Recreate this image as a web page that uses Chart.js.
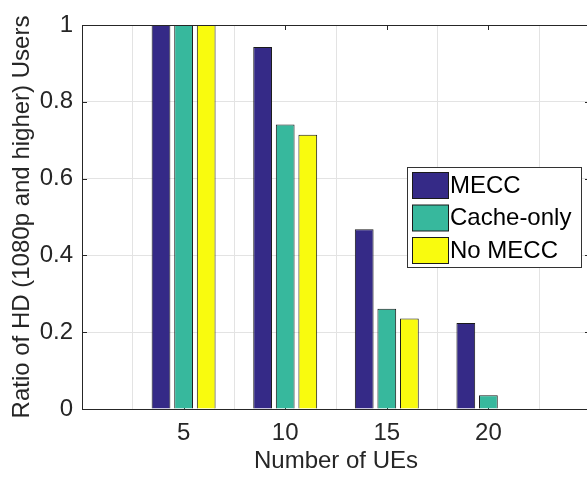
<!DOCTYPE html>
<html><head><meta charset="utf-8">
<script src="https://cdn.jsdelivr.net/npm/chart.js@4"></script>
<style>html,body{margin:0;padding:0;background:#fff;overflow:hidden;} #wrap{position:absolute;left:0;top:0;width:592px;height:479px;}</style>
</head><body><div id="wrap"><canvas id="c" width="592" height="479"></canvas></div>
<script>
const categories = ['', '5', '10', '15', '20', ''];
const seriesNames = ['MECC', 'Cache-only', 'No MECC'];
const mecc      = [null, 1.0, 0.943, 0.468, 0.224, null];
const cacheOnly = [null, 1.0, 0.741, 0.261, 0.036, null];
const noMecc    = [null, 1.0, 0.714, 0.236, 0.0, null];
const yTicks = [0, 0.2, 0.4, 0.6, 0.8, 1];
const xTitle = 'Number of UEs';
const yTitle = 'Ratio of HD (1080p and higher) Users';
const colors = ['#352a87', '#37b89d', '#f9fb0e'];

const FONT = "'Liberation Sans', Arial, Helvetica, sans-serif";
const AX = '#262626';

const framePlugin = {
  id: 'frame',
  beforeDatasetsDraw(chart) {
    const {ctx, chartArea: a, scales} = chart;
    ctx.save();
    ctx.strokeStyle = AX; ctx.lineWidth = 1;
    const L = 5;
    ctx.beginPath();
    for (let i = 1; i < categories.length - 1; i++) {
      const x = Math.round(scales.x.getPixelForValue(i)) + 0.5;
      ctx.moveTo(x, a.bottom); ctx.lineTo(x, a.bottom - L);
      ctx.moveTo(x, a.top); ctx.lineTo(x, a.top + L);
    }
    yTicks.forEach(v => {
      const y = Math.round(scales.y.getPixelForValue(v)) + 0.5;
      ctx.moveTo(a.left, y); ctx.lineTo(a.left + L, y);
      ctx.moveTo(a.right, y); ctx.lineTo(a.right - L, y);
    });
    ctx.stroke();
    ctx.restore();
  },
  afterDraw(chart) {
    const {ctx, chartArea: a} = chart;
    ctx.save();
    ctx.strokeStyle = AX; ctx.lineWidth = 1;
    ctx.beginPath();
    ctx.moveTo(a.left, Math.round(a.top) + 0.5); ctx.lineTo(a.right, Math.round(a.top) + 0.5);
    ctx.moveTo(Math.round(a.right) - 0.5, a.top); ctx.lineTo(Math.round(a.right) - 0.5, a.bottom);
    ctx.stroke();
    // legend
    const bx = a.right - 183, by = a.top + 142, bw = 174, bh = 100;
    ctx.fillStyle = '#fff';
    ctx.fillRect(bx, by, bw, bh);
    ctx.strokeStyle = '#333';
    ctx.strokeRect(bx + 0.5, by + 0.5, bw, bh);
    ctx.font = '24px ' + FONT;
    ctx.textBaseline = 'middle';
    ctx.textAlign = 'left';
    chart.data.datasets.forEach((ds, i) => {
      const sy = by + 5.5 + i * 32.5;
      ctx.fillStyle = ds.backgroundColor;
      ctx.fillRect(bx + 5.5, sy, 36, 26);
      ctx.strokeStyle = '#1a1a1a';
      ctx.strokeRect(bx + 5.5, sy, 36, 26);
      ctx.fillStyle = '#000';
      ctx.fillText(ds.label, bx + 43, sy + 13.5);
    });
    ctx.restore();
  }
};

const series = [mecc, cacheOnly, noMecc];
new Chart(document.getElementById('c'), {
  type: 'bar',
  data: {
    labels: categories,
    datasets: series.map((d, i) => ({
      label: seriesNames[i],
      data: d,
      backgroundColor: colors[i],
      borderColor: '#1a1a1a',
      borderWidth: 1,
      categoryPercentage: 0.667,
      barPercentage: 0.83
    }))
  },
  options: {
    responsive: false,
    animation: false,
    devicePixelRatio: 1,
    layout: { padding: { top: 25, right: 2, left: 0, bottom: 0 } },
    plugins: { legend: { display: false }, tooltip: { enabled: false } },
    scales: {
      x: {
        offset: false,
        grid: { display: true, color: '#e3e3e3', drawTicks: false },
        border: { display: true, color: AX, width: 1 },
        ticks: { color: AX, font: { family: FONT, size: 24 }, padding: 10, maxRotation: 0, autoSkip: false },
        title: { display: true, text: xTitle, color: AX, font: { family: FONT, size: 24 }, padding: { top: 0, bottom: 3 } },
        afterFit: s => { s.height = 70; s.paddingLeft = 0; s.paddingRight = 0; }
      },
      y: {
        min: 0, max: 1,
        afterBuildTicks: s => { s.ticks = yTicks.map(v => ({ value: v })); },
        grid: { display: true, color: '#e3e3e3', drawTicks: false },
        border: { display: true, color: AX, width: 1 },
        ticks: { color: AX, font: { family: FONT, size: 24 }, padding: 9, callback: v => String(Math.round(v * 10) / 10) },
        title: { display: true, text: yTitle, color: AX, font: { family: FONT, size: 24 }, padding: { top: 8, bottom: 0 } },
        afterFit: s => { s.width = 82; s.paddingTop = 0; s.paddingBottom = 0; }
      }
    }
  },
  plugins: [framePlugin]
});
</script>
</body></html>
